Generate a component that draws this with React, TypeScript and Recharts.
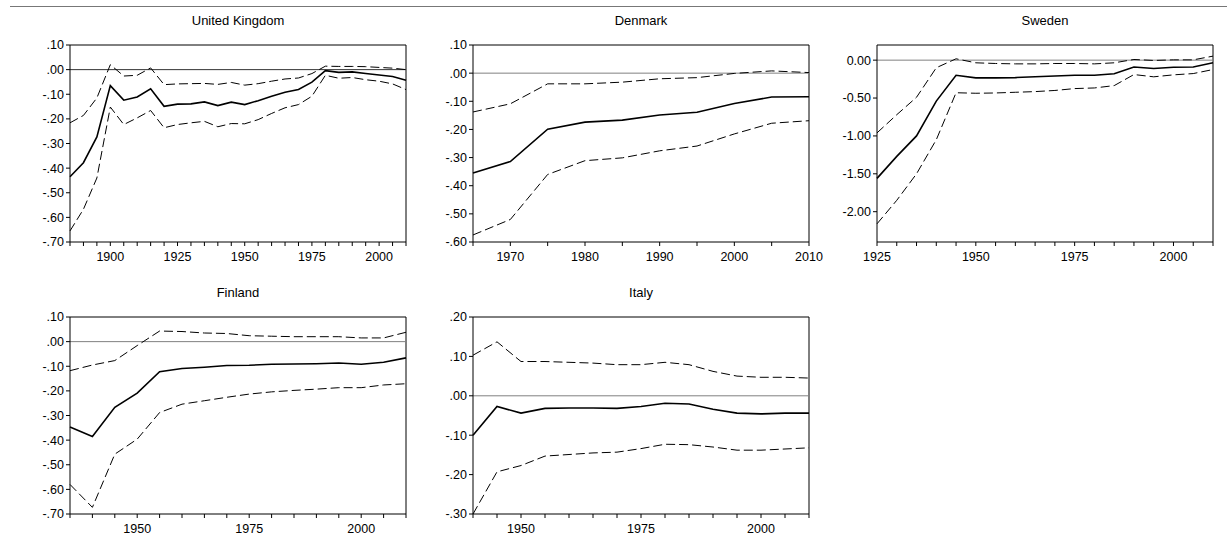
import { LineChart, Line, XAxis, YAxis, ReferenceLine } from 'recharts';

// estimates, 5-year steps
const ukYears = [1885, 1890, 1895, 1900, 1905, 1910, 1915, 1920, 1925, 1930, 1935, 1940, 1945, 1950, 1955, 1960, 1965, 1970, 1975, 1980, 1985, 1990, 1995, 2000, 2005, 2010];
const ukMid = [-0.435, -0.378, -0.273, -0.065, -0.124, -0.111, -0.078, -0.149, -0.14, -0.139, -0.131, -0.146, -0.132, -0.142, -0.126, -0.108, -0.092, -0.081, -0.051, -0.004, -0.011, -0.009, -0.016, -0.022, -0.028, -0.043];
const ukUpper = [-0.216, -0.186, -0.115, 0.02, -0.026, -0.023, 0.007, -0.061, -0.058, -0.057, -0.056, -0.06, -0.052, -0.063, -0.057, -0.047, -0.038, -0.034, -0.016, 0.014, 0.013, 0.013, 0.012, 0.009, 0.006, 0.0];
const ukLower = [-0.655, -0.567, -0.44, -0.152, -0.223, -0.196, -0.166, -0.236, -0.223, -0.216, -0.21, -0.232, -0.219, -0.22, -0.203, -0.178, -0.155, -0.142, -0.108, -0.023, -0.035, -0.032, -0.041, -0.047, -0.058, -0.081];
const ukLabels = [1900, 1925, 1950, 1975, 2000];
const ukYTicks = [0.1, 0, -0.1, -0.2, -0.3, -0.4, -0.5, -0.6, -0.7];

const dkYears = [1965, 1970, 1975, 1980, 1985, 1990, 1995, 2000, 2005, 2010];
const dkMid = [-0.355, -0.314, -0.199, -0.174, -0.167, -0.149, -0.139, -0.108, -0.085, -0.084];
const dkUpper = [-0.138, -0.109, -0.038, -0.038, -0.032, -0.02, -0.016, -0.001, 0.008, 0.002];
const dkLower = [-0.575, -0.52, -0.36, -0.311, -0.301, -0.276, -0.259, -0.216, -0.178, -0.169];
const dkLabels = [1970, 1980, 1990, 2000, 2010];
const dkYTicks = [0.1, 0, -0.1, -0.2, -0.3, -0.4, -0.5, -0.6];

const seYears = [1925, 1930, 1935, 1940, 1945, 1950, 1955, 1960, 1965, 1970, 1975, 1980, 1985, 1990, 1995, 2000, 2005, 2010];
const seMid = [-1.56, -1.27, -1.0, -0.54, -0.2, -0.234, -0.234, -0.23, -0.22, -0.21, -0.2, -0.2, -0.18, -0.09, -0.11, -0.093, -0.09, -0.035];
const seUpper = [-0.96, -0.72, -0.49, -0.1, 0.018, -0.035, -0.044, -0.049, -0.049, -0.044, -0.044, -0.049, -0.035, 0.009, -0.004, 0.004, 0.004, 0.053];
const seLower = [-2.16, -1.85, -1.5, -1.05, -0.43, -0.437, -0.433, -0.424, -0.415, -0.4, -0.375, -0.367, -0.336, -0.19, -0.22, -0.194, -0.177, -0.124];
const seLabels = [1925, 1950, 1975, 2000];
const seYTicks = [0, -0.5, -1, -1.5, -2];

const fiYears = [1935, 1940, 1945, 1950, 1955, 1960, 1965, 1970, 1975, 1980, 1985, 1990, 1995, 2000, 2005, 2010];
const fiMid = [-0.347, -0.385, -0.267, -0.209, -0.122, -0.109, -0.104, -0.097, -0.096, -0.092, -0.091, -0.09, -0.087, -0.092, -0.084, -0.066];
const fiUpper = [-0.118, -0.095, -0.077, -0.016, 0.043, 0.041, 0.035, 0.033, 0.024, 0.022, 0.02, 0.02, 0.02, 0.015, 0.015, 0.038];
const fiLower = [-0.58, -0.673, -0.457, -0.396, -0.288, -0.254, -0.24, -0.226, -0.213, -0.204, -0.198, -0.193, -0.187, -0.187, -0.176, -0.171];
const fiLabels = [1950, 1975, 2000];
const fiYTicks = [0.1, 0, -0.1, -0.2, -0.3, -0.4, -0.5, -0.6, -0.7];

const itYears = [1940, 1945, 1950, 1955, 1960, 1965, 1970, 1975, 1980, 1985, 1990, 1995, 2000, 2005, 2010];
const itMid = [-0.1, -0.027, -0.044, -0.032, -0.031, -0.031, -0.032, -0.027, -0.019, -0.021, -0.034, -0.044, -0.046, -0.044, -0.044];
const itUpper = [0.103, 0.137, 0.087, 0.087, 0.085, 0.083, 0.079, 0.079, 0.085, 0.079, 0.062, 0.05, 0.047, 0.047, 0.045];
const itLower = [-0.3, -0.193, -0.177, -0.153, -0.149, -0.145, -0.143, -0.134, -0.123, -0.124, -0.13, -0.138, -0.138, -0.135, -0.132];
const itLabels = [1950, 1975, 2000];
const itYTicks = [0.2, 0.1, 0, -0.1, -0.2, -0.3];

const FONT = '"Liberation Sans", Arial, sans-serif';
const PLOT_W = 336;
const PLOT_H = 197;

// eviews style: .10 / -.20
const shortFmt = (v: number) => {
  const s = Math.abs(v).toFixed(2).replace(/^0/, '');
  return v < -1e-9 ? `-${s}` : s;
};
const longFmt = (v: number) => (Math.abs(v) < 1e-9 ? '0.00' : v.toFixed(2));

interface PanelProps {
  title: string;
  years: number[];
  mid: number[];
  upper: number[];
  lower: number[];
  labels: number[];
  yTicks: number[];
  yDomain: [number, number];
  fmt: (v: number) => string;
  x: number;
  y: number;
  zeroColor?: string;
}

function Panel({ title, years, mid, upper, lower, labels, yTicks, yDomain, fmt, x, y, zeroColor = '#808080' }: PanelProps) {
  const data = years.map((yr, i) => ({ year: yr, mid: mid[i], upper: upper[i], lower: lower[i] }));
  const xMin = years[0];
  const xMax = years[years.length - 1];

  return (
    <>
      <div
        style={{
          position: 'absolute',
          left: x,
          top: y - 32,
          width: PLOT_W,
          textAlign: 'center',
          fontFamily: FONT,
          fontSize: 13,
          color: '#000',
        }}
      >
        {title}
      </div>
      <div style={{ position: 'absolute', left: x - 60, top: y - 10 }}>
        <LineChart
          width={PLOT_W + 80}
          height={PLOT_H + 40}
          data={data}
          margin={{ top: 10, right: 20, left: 0, bottom: 0 }}
        >
          <XAxis
            dataKey="year"
            type="number"
            domain={[xMin, xMax]}
            ticks={years}
            interval={0}
            tickFormatter={(v: number) => (labels.includes(v) ? String(v) : '')}
            tickSize={4}
            tickMargin={6}
            height={30}
            stroke="#000"
            tick={{ fill: '#000', fontSize: 12.5, fontFamily: FONT }}
          />
          <YAxis
            type="number"
            domain={yDomain}
            ticks={yTicks}
            interval={0}
            tickFormatter={fmt}
            tickSize={4}
            tickMargin={2}
            width={60}
            stroke="#000"
            tick={{ fill: '#000', fontSize: 12.5, fontFamily: FONT }}
          />
          <ReferenceLine y={yDomain[1]} stroke="#000" strokeWidth={1} />
          <ReferenceLine x={xMax} stroke="#000" strokeWidth={1} />
          <ReferenceLine y={0} stroke={zeroColor} strokeWidth={1} />
          <Line dataKey="upper" stroke="#000" strokeWidth={1} strokeDasharray="9 4" dot={false} isAnimationActive={false} />
          <Line dataKey="lower" stroke="#000" strokeWidth={1} strokeDasharray="9 4" dot={false} isAnimationActive={false} />
          <Line dataKey="mid" stroke="#000" strokeWidth={1.6} dot={false} isAnimationActive={false} />
        </LineChart>
      </div>
    </>
  );
}

export default function App() {
  return (
    <div style={{ position: 'absolute', left: 0, top: 0, width: 1227, height: 544, background: '#fff' }}>
      <div style={{ position: 'absolute', left: 10, top: 6, width: 1217, height: 1, background: '#777' }} />
      <Panel title="United Kingdom" years={ukYears} mid={ukMid} upper={ukUpper} lower={ukLower} labels={ukLabels} yTicks={ukYTicks} yDomain={[-0.7, 0.1]} fmt={shortFmt} x={70} y={45} zeroColor="#333" />
      <Panel title="Denmark" years={dkYears} mid={dkMid} upper={dkUpper} lower={dkLower} labels={dkLabels} yTicks={dkYTicks} yDomain={[-0.6, 0.1]} fmt={shortFmt} x={473} y={45} />
      <Panel title="Sweden" years={seYears} mid={seMid} upper={seUpper} lower={seLower} labels={seLabels} yTicks={seYTicks} yDomain={[-2.4, 0.2]} fmt={longFmt} x={877} y={45} />
      <Panel title="Finland" years={fiYears} mid={fiMid} upper={fiUpper} lower={fiLower} labels={fiLabels} yTicks={fiYTicks} yDomain={[-0.7, 0.1]} fmt={shortFmt} x={70} y={317} />
      <Panel title="Italy" years={itYears} mid={itMid} upper={itUpper} lower={itLower} labels={itLabels} yTicks={itYTicks} yDomain={[-0.3, 0.2]} fmt={shortFmt} x={473} y={317} />
    </div>
  );
}
